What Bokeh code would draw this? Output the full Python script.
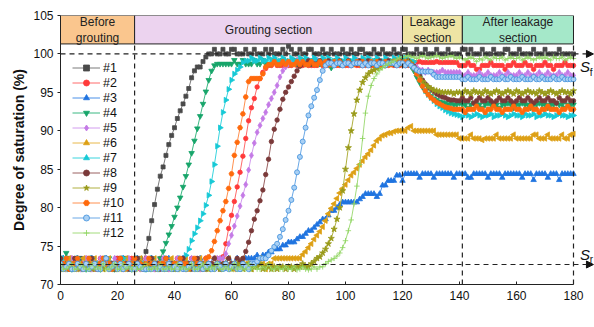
import math
from bokeh.plotting import figure
from bokeh.models import (Range1d, ColumnDataSource, Legend, LegendItem, Arrow,
                          NormalHead, FixedTicker, Label)
from bokeh.core.properties import value
from bokeh.embed import file_html
from bokeh.resources import INLINE

# ---------------- data ----------------
time_min = list(range(0, 181))

s1 = [73.4, 72.7, 72.7, 73.4, 72.7, 72.0, 72.7, 73.4, 72.7, 72.7,
      73.4, 72.7, 72.0, 72.7, 72.7, 73.4, 72.7, 72.7, 72.0, 72.7,
      73.4, 72.7, 72.7, 73.4, 72.7, 72.0, 72.7, 72.7, 73.4, 72.7,
      74.3, 76.0, 78.3, 80.4, 82.4, 84.1, 85.3, 86.8, 88.2, 89.4,
      90.4, 91.6, 92.6, 93.5, 94.5, 95.5, 96.9, 97.8, 98.3, 98.3,
      99.0, 99.6, 100.0, 100.0, 100.6, 100.0, 100.0, 100.6, 100.0, 100.0,
      100.6, 100.6, 100.0, 100.0, 100.0, 100.6, 100.0, 100.0, 100.6, 100.0,
      100.0, 100.0, 100.6, 100.0, 100.6, 100.0, 100.0, 100.0, 100.6, 100.0,
      101.0, 100.6, 100.0, 100.0, 100.6, 100.0, 100.0, 100.6, 100.6, 100.0,
      100.0, 100.0, 100.6, 100.0, 100.0, 100.6, 100.0, 100.0, 100.0, 100.6,
      100.0, 100.0, 100.6, 100.0, 100.0, 100.6, 100.6, 100.0, 100.0, 100.0,
      100.6, 100.0, 100.0, 100.6, 100.0, 100.0, 100.0, 100.6, 100.0, 100.0,
      100.6, 100.6, 100.0, 100.0, 100.0, 100.6, 100.0, 100.0, 100.6, 100.0,
      100.0, 100.0, 100.6, 100.0, 100.0, 100.0, 100.6, 100.0, 100.0, 100.0,
      100.0, 100.6, 100.6, 100.0, 100.6, 100.0, 100.0, 100.0, 100.6, 100.0,
      100.0, 100.0, 100.6, 100.0, 100.0, 100.0, 100.6, 100.6, 100.0, 100.0,
      100.0, 100.6, 100.0, 100.0, 100.0, 100.0, 100.6, 100.0, 100.0, 100.0,
      100.6, 100.0, 100.0, 100.0, 100.0, 100.6, 100.0, 100.0, 100.0, 100.0,
      100.0]

s2 = [72.7, 72.0, 72.7, 72.7, 73.4, 72.7, 72.0, 72.7, 72.7, 73.4,
      72.7, 72.7, 72.0, 72.7, 73.4, 72.7, 72.7, 72.0, 72.7, 72.7,
      73.4, 72.7, 72.0, 72.7, 72.7, 73.4, 72.7, 72.7, 72.0, 72.7,
      73.4, 72.7, 72.7, 72.0, 72.7, 73.4, 72.7, 72.7, 72.0, 72.7,
      72.7, 73.4, 72.7, 72.0, 72.7, 72.7, 73.4, 72.7, 72.7, 72.0,
      72.7, 73.4, 72.7, 72.7, 72.0, 72.7, 73.4, 73.6, 75.3, 77.3,
      79.0, 80.8, 82.7, 84.6, 86.7, 89.0, 91.3, 93.0, 94.2, 95.7,
      96.8, 97.6, 98.1, 98.5, 98.5, 98.9, 98.5, 98.5, 98.5, 98.9,
      98.5, 98.5, 98.9, 98.5, 98.5, 98.5, 98.9, 98.5, 98.5, 98.5,
      98.5, 98.9, 98.5, 98.5, 98.5, 98.5, 98.9, 98.5, 98.5, 98.9,
      98.5, 98.5, 98.5, 98.9, 98.5, 98.5, 98.5, 98.5, 98.9, 98.5,
      98.5, 98.9, 98.5, 98.5, 98.5, 98.5, 98.9, 98.5, 98.5, 98.5,
      98.9, 98.5, 98.5, 98.9, 98.9, 98.9, 99.0, 98.9, 98.9, 98.9,
      98.9, 98.9, 99.0, 98.9, 98.9, 98.9, 98.9, 98.9, 98.9, 98.9,
      98.5, 98.5, 98.5, 98.9, 98.5, 98.5, 98.0, 98.0, 98.5, 98.5,
      98.5, 98.9, 98.5, 98.5, 98.5, 98.5, 98.0, 98.5, 98.5, 98.9,
      98.5, 98.5, 98.5, 98.9, 98.5, 98.5, 98.0, 98.5, 98.5, 98.5,
      98.9, 98.5, 98.5, 98.0, 98.5, 98.5, 98.5, 98.9, 98.5, 98.5,
      98.5]

s3 = [72.7, 73.4, 72.7, 72.0, 72.7, 72.7, 73.4, 72.7, 72.0, 72.7,
      72.7, 73.4, 72.7, 72.7, 72.0, 72.7, 73.4, 72.7, 72.7, 72.0,
      72.7, 72.7, 73.4, 72.7, 72.0, 72.7, 72.7, 73.4, 72.7, 72.7,
      72.0, 72.7, 73.4, 72.7, 72.7, 72.0, 72.7, 72.7, 73.4, 72.7,
      72.7, 72.0, 72.7, 73.4, 72.7, 72.7, 72.0, 72.7, 72.7, 73.4,
      72.7, 72.0, 72.7, 72.7, 73.4, 72.7, 72.7, 72.0, 72.7, 73.4,
      72.7, 72.7, 73.4, 72.7, 72.7, 73.4, 73.4, 73.4, 73.4, 73.8,
      73.4, 73.8, 73.8, 74.2, 74.2, 74.6, 74.6, 74.6, 75.1, 75.1,
      75.5, 75.5, 75.5, 75.9, 76.2, 76.2, 76.6, 77.0, 77.0, 77.4,
      77.8, 78.1, 78.5, 78.5, 79.0, 79.6, 79.6, 80.0, 80.4, 80.7,
      80.7, 80.7, 80.7, 80.7, 80.7, 81.1, 81.4, 81.8, 81.8, 81.8,
      81.8, 81.4, 81.8, 82.9, 82.9, 83.5, 83.5, 83.5, 84.2, 84.2,
      83.5, 84.4, 84.4, 84.4, 84.4, 84.4, 83.9, 84.4, 84.4, 84.4,
      84.4, 83.9, 84.4, 84.4, 84.4, 84.4, 84.4, 84.4, 83.9, 84.4,
      84.4, 84.4, 84.4, 83.9, 83.9, 84.4, 84.4, 84.4, 84.4, 84.4,
      83.9, 84.4, 84.4, 84.4, 84.4, 83.9, 84.4, 84.4, 84.4, 84.4,
      84.4, 84.4, 83.9, 84.4, 84.4, 84.4, 83.6, 84.4, 84.4, 84.4,
      84.4, 83.9, 84.4, 84.4, 84.4, 83.6, 84.4, 84.4, 84.4, 84.4,
      84.4]

s4 = [72.7, 72.7, 74.1, 72.7, 72.0, 72.7, 73.4, 72.7, 72.7, 72.0,
      72.7, 73.4, 72.7, 72.7, 72.0, 72.7, 72.7, 73.4, 72.7, 72.0,
      72.7, 72.7, 73.4, 72.7, 72.7, 72.0, 72.7, 73.4, 72.7, 72.7,
      72.0, 72.7, 73.4, 72.7, 72.7, 73.4, 74.3, 75.4, 76.5, 77.6,
      78.8, 80.0, 81.3, 82.7, 84.1, 85.6, 87.1, 88.7, 90.3, 91.9,
      93.5, 95.1, 96.6, 97.8, 98.5, 98.7, 98.7, 98.7, 98.7, 98.7,
      98.7, 99.2, 98.7, 98.7, 99.2, 98.7, 98.7, 98.7, 99.2, 98.7,
      98.7, 99.2, 98.7, 98.7, 98.7, 99.2, 98.7, 98.7, 99.2, 98.7,
      98.7, 98.7, 99.2, 98.7, 98.7, 99.2, 98.7, 98.7, 98.7, 99.2,
      98.7, 98.7, 99.2, 98.7, 98.7, 98.2, 98.7, 99.2, 98.7, 98.7,
      98.7, 99.2, 98.7, 98.7, 99.2, 98.7, 98.7, 98.7, 99.2, 98.7,
      98.7, 99.2, 98.7, 98.7, 98.7, 99.2, 98.7, 98.7, 99.2, 98.7,
      98.7, 99.2, 98.7, 98.4, 97.8, 97.0, 96.3, 95.7, 95.2, 94.8,
      94.5, 94.2, 94.0, 93.8, 93.7, 93.6, 93.4, 93.6, 93.4, 93.4,
      93.6, 93.4, 93.4, 93.0, 93.4, 93.6, 93.4, 93.4, 93.0, 93.4,
      93.6, 93.4, 93.4, 93.4, 93.0, 93.4, 93.4, 93.6, 93.4, 93.0,
      93.4, 93.4, 93.6, 93.4, 93.4, 93.0, 93.4, 93.4, 93.6, 93.4,
      93.4, 93.0, 93.4, 93.4, 93.6, 93.4, 93.4, 93.0, 93.4, 93.4,
      93.4]

s5 = [72.7, 72.7, 72.0, 72.7, 73.4, 72.7, 72.7, 72.0, 72.7, 73.4,
      72.7, 72.0, 72.7, 72.7, 73.4, 72.7, 72.7, 72.0, 72.7, 73.4,
      72.7, 72.7, 72.0, 72.7, 73.4, 72.7, 72.7, 72.7, 72.0, 72.7,
      73.4, 72.7, 72.7, 72.0, 72.7, 72.7, 73.4, 72.7, 72.0, 72.7,
      72.7, 73.4, 72.7, 72.7, 72.0, 72.7, 73.4, 72.7, 72.7, 72.0,
      72.7, 73.4, 72.7, 72.7, 73.4, 73.4, 73.4, 73.4, 74.0, 75.3,
      76.4, 77.6, 78.9, 80.2, 81.6, 83.0, 84.9, 86.8, 88.4, 89.8,
      90.7, 91.6, 92.4, 93.4, 94.2, 95.0, 95.9, 97.0, 97.8, 98.3,
      98.7, 98.9, 98.9, 99.2, 98.9, 98.9, 98.9, 99.2, 98.9, 98.9,
      99.2, 98.9, 98.9, 98.9, 99.2, 98.9, 98.9, 99.2, 98.9, 98.9,
      98.9, 99.2, 98.9, 98.9, 99.2, 98.9, 98.9, 98.9, 99.2, 98.9,
      98.9, 99.2, 98.9, 98.9, 98.9, 99.2, 98.9, 98.9, 99.2, 98.9,
      98.9, 98.9, 99.2, 98.9, 98.7, 98.3, 97.9, 97.9, 97.6, 97.9,
      97.6, 97.6, 97.6, 97.6, 97.9, 97.6, 97.6, 97.6, 97.6, 97.6,
      97.6, 97.2, 97.2, 97.6, 97.2, 97.2, 97.2, 97.6, 97.2, 97.2,
      97.6, 97.2, 97.2, 97.2, 97.6, 97.2, 97.2, 97.6, 97.2, 97.2,
      97.2, 97.6, 97.2, 97.2, 97.6, 97.2, 97.2, 97.2, 97.6, 97.2,
      97.2, 97.6, 97.2, 97.2, 97.2, 97.6, 97.2, 97.2, 97.6, 97.2,
      97.2]

s6 = [72.0, 72.7, 72.7, 73.4, 72.7, 72.0, 72.7, 72.7, 73.4, 72.7,
      72.0, 72.7, 73.4, 72.7, 72.7, 72.0, 72.7, 73.4, 72.7, 72.7,
      72.0, 72.7, 72.7, 73.4, 72.7, 72.0, 72.7, 72.7, 73.4, 72.7,
      72.7, 72.0, 72.7, 73.4, 72.7, 72.7, 72.0, 72.7, 72.7, 73.4,
      72.7, 72.0, 72.7, 72.7, 73.4, 72.7, 72.7, 72.0, 72.7, 73.4,
      72.7, 72.7, 72.0, 72.7, 73.4, 72.7, 72.0, 72.7, 72.7, 73.4,
      72.7, 72.0, 72.7, 72.7, 73.4, 72.7, 72.7, 72.0, 72.7, 72.7,
      73.4, 72.7, 72.0, 72.7, 72.7, 73.4, 73.4, 73.4, 73.4, 73.4,
      73.4, 73.4, 73.4, 73.4, 73.4, 73.9, 74.3, 74.8, 75.3, 75.9,
      76.4, 76.9, 77.5, 78.3, 79.2, 79.9, 80.5, 81.2, 81.9, 82.5,
      83.0, 83.6, 84.2, 84.6, 85.1, 85.6, 86.1, 86.6, 87.0, 87.5,
      88.1, 88.7, 89.0, 89.4, 89.5, 89.7, 89.7, 89.9, 90.0, 90.0,
      90.0, 90.0, 90.4, 90.6, 90.0, 90.0, 90.0, 90.0, 90.0, 90.0,
      90.0, 90.0, 89.5, 89.5, 89.5, 89.5, 89.5, 89.5, 89.5, 89.5,
      89.0, 89.0, 89.0, 89.0, 89.5, 89.0, 89.0, 89.0, 88.8, 89.0,
      89.0, 89.0, 89.0, 89.5, 89.0, 89.0, 89.0, 89.0, 89.0, 89.5,
      89.0, 89.0, 89.0, 89.0, 89.0, 89.0, 89.5, 89.5, 89.0, 89.0,
      89.0, 89.5, 89.0, 89.0, 89.0, 89.0, 89.5, 89.0, 89.0, 89.5,
      89.6]

s7 = [72.7, 73.4, 72.7, 72.0, 72.7, 72.7, 73.4, 72.7, 72.0, 72.7,
      72.7, 73.4, 72.7, 72.7, 72.0, 72.7, 73.4, 72.7, 72.7, 72.0,
      72.7, 72.7, 73.4, 72.7, 72.0, 72.7, 72.7, 73.4, 72.7, 72.7,
      72.0, 72.7, 73.4, 72.7, 72.7, 72.0, 72.7, 73.4, 72.7, 72.7,
      72.0, 72.7, 73.4, 72.7, 73.8, 74.6, 75.7, 76.6, 77.4, 78.3,
      79.2, 80.3, 81.6, 83.4, 85.6, 88.0, 90.4, 92.4, 94.0, 95.4,
      96.6, 97.4, 97.9, 98.3, 98.9, 99.1, 99.1, 99.5, 99.1, 99.1,
      99.5, 99.1, 99.1, 99.5, 99.1, 99.5, 99.1, 99.1, 99.5, 99.1,
      99.1, 99.5, 99.1, 99.1, 99.5, 99.1, 99.5, 99.1, 99.1, 99.5,
      99.1, 99.1, 99.5, 99.1, 99.5, 99.1, 99.1, 99.5, 99.1, 99.1,
      99.5, 99.1, 99.1, 99.5, 99.1, 99.1, 99.5, 99.1, 99.5, 99.1,
      99.1, 99.5, 99.1, 99.1, 99.5, 99.1, 99.1, 99.5, 99.1, 99.5,
      99.1, 99.5, 99.1, 99.1, 99.0, 98.0, 97.1, 96.1, 95.2, 94.7,
      94.3, 93.9, 93.5, 93.2, 93.0, 92.7, 92.5, 92.3, 92.2, 92.1,
      92.0, 91.8, 92.2, 92.0, 91.8, 92.0, 92.2, 92.0, 91.8, 92.0,
      92.0, 92.2, 91.8, 92.0, 92.0, 92.2, 92.0, 91.8, 92.0, 92.2,
      92.0, 92.0, 91.8, 92.2, 92.0, 92.0, 92.2, 91.8, 92.0, 92.0,
      92.2, 92.0, 92.0, 91.8, 92.0, 92.2, 92.0, 92.0, 91.8, 92.0,
      92.0]

s8 = [73.4, 72.7, 72.7, 72.0, 72.7, 73.4, 72.7, 72.7, 72.0, 72.7,
      72.7, 73.4, 72.7, 72.0, 72.7, 72.7, 73.4, 72.7, 72.7, 72.0,
      72.7, 73.4, 72.7, 72.7, 72.0, 72.7, 72.7, 73.4, 72.7, 72.0,
      72.7, 72.7, 73.4, 72.7, 72.7, 72.0, 72.7, 73.4, 72.7, 72.7,
      72.0, 72.7, 72.7, 73.4, 72.7, 72.7, 72.0, 72.7, 73.4, 72.7,
      72.7, 72.0, 72.7, 72.7, 73.4, 72.7, 72.0, 72.7, 72.7, 73.4,
      72.7, 72.7, 73.4, 73.0, 73.4, 74.3, 75.5, 77.0, 78.5, 79.6,
      80.9, 82.3, 84.3, 86.3, 88.6, 90.2, 91.4, 92.8, 94.1, 95.0,
      95.7, 96.4, 97.1, 97.8, 98.4, 98.7, 98.7, 99.1, 98.7, 98.7,
      98.7, 99.1, 98.7, 98.7, 99.1, 98.7, 98.7, 98.7, 99.1, 98.7,
      98.7, 99.1, 98.7, 98.7, 98.7, 99.1, 98.7, 98.7, 99.1, 98.7,
      98.7, 98.7, 99.1, 98.7, 98.7, 99.1, 98.7, 98.7, 98.7, 99.1,
      98.7, 98.7, 99.1, 98.7, 98.4, 97.8, 97.2, 96.6, 96.1, 95.7,
      95.4, 95.1, 94.8, 94.6, 94.4, 94.3, 94.1, 94.0, 94.0, 93.9,
      93.9, 94.3, 93.9, 93.9, 94.3, 93.6, 93.9, 94.3, 93.9, 93.9,
      94.3, 93.9, 93.6, 93.9, 94.3, 93.9, 93.9, 94.3, 93.9, 93.6,
      93.9, 94.3, 93.9, 93.9, 94.3, 93.9, 93.6, 93.9, 94.3, 93.9,
      93.9, 94.3, 93.9, 93.9, 93.6, 94.3, 93.9, 93.9, 94.3, 93.9,
      93.9]

s9 = [72.3, 72.0, 72.7, 72.3, 72.0, 72.3, 72.7, 72.0, 72.3, 72.3,
      72.7, 72.0, 72.3, 72.3, 72.7, 72.0, 72.3, 72.7, 72.3, 72.0,
      72.3, 72.7, 72.0, 72.3, 72.3, 72.7, 72.0, 72.3, 72.7, 72.3,
      72.0, 72.3, 72.7, 72.3, 72.0, 72.3, 72.7, 72.0, 72.3, 72.3,
      72.7, 72.0, 72.3, 72.3, 72.7, 72.0, 72.3, 72.7, 72.3, 72.0,
      72.3, 72.7, 72.0, 72.3, 72.3, 72.7, 72.0, 72.3, 72.7, 72.3,
      72.0, 72.3, 72.7, 72.3, 72.0, 72.3, 72.7, 72.0, 72.3, 72.3,
      72.7, 72.0, 72.3, 72.3, 72.0, 72.3, 72.0, 72.3, 72.3, 72.0,
      72.3, 72.3, 72.0, 72.3, 72.3, 72.7, 72.3, 72.3, 72.7, 73.0,
      73.4, 73.6, 74.1, 74.6, 75.3, 76.0, 77.2, 78.5, 80.0, 82.2,
      85.0, 87.8, 90.0, 92.2, 94.0, 95.3, 96.3, 96.9, 97.4, 97.7,
      97.9, 98.1, 98.3, 98.5, 98.7, 98.7, 98.9, 99.0, 99.0, 99.0,
      99.0, 99.0, 99.0, 98.8, 98.2, 97.5, 96.9, 96.4, 96.0, 95.7,
      95.5, 95.3, 95.2, 95.1, 95.0, 95.0, 95.0, 95.0, 94.8, 95.0,
      95.0, 94.8, 95.2, 95.0, 94.8, 95.2, 95.0, 95.0, 94.8, 95.2,
      95.0, 94.8, 95.0, 95.2, 95.0, 94.8, 95.0, 95.2, 95.0, 94.8,
      95.2, 95.0, 94.8, 95.0, 95.2, 95.0, 95.0, 94.8, 95.2, 95.0,
      94.8, 95.0, 95.2, 95.0, 94.8, 95.0, 95.2, 95.0, 95.0, 94.8,
      95.2]

s10 = [72.7, 72.7, 73.4, 72.0, 72.7, 72.7, 73.4, 72.7, 72.0, 72.7,
       73.4, 72.7, 72.7, 72.0, 72.7, 73.4, 72.7, 72.7, 72.0, 72.7,
       72.7, 73.4, 72.7, 72.0, 72.7, 72.7, 73.4, 72.7, 72.7, 72.0,
       72.7, 73.4, 72.7, 72.7, 72.0, 72.7, 72.7, 73.4, 72.7, 72.0,
       72.7, 72.7, 73.4, 72.7, 72.7, 72.0, 72.7, 73.4, 72.7, 72.7,
       72.0, 73.4, 73.6, 74.4, 75.6, 77.0, 78.3, 79.6, 80.8, 82.5,
       84.4, 86.8, 88.5, 90.4, 92.2, 94.4, 96.4, 96.8, 96.8, 96.8,
       96.8, 97.4, 98.3, 98.6, 98.6, 99.0, 98.6, 98.6, 99.0, 98.6,
       99.0, 98.6, 98.6, 99.0, 98.6, 99.0, 98.6, 98.6, 99.0, 98.6,
       98.6, 99.0, 98.6, 99.0, 98.6, 98.6, 99.0, 98.6, 99.0, 98.6,
       98.6, 99.0, 98.6, 98.6, 99.0, 98.6, 99.0, 98.6, 98.6, 99.0,
       98.6, 99.0, 98.6, 98.6, 99.0, 98.6, 98.6, 99.0, 98.6, 99.0,
       98.6, 99.0, 98.6, 98.6, 98.2, 97.4, 96.6, 95.8, 95.2, 94.7,
       94.3, 94.0, 93.7, 93.5, 93.3, 93.1, 93.0, 92.9, 92.8, 92.8,
       92.8, 92.8, 92.4, 92.8, 92.8, 92.8, 93.2, 92.8, 92.8, 92.4,
       92.8, 92.8, 93.2, 92.8, 92.8, 92.4, 92.8, 92.8, 92.8, 93.2,
       92.8, 92.8, 92.4, 92.8, 92.8, 93.2, 92.8, 92.8, 92.4, 92.8,
       92.8, 93.2, 92.8, 92.8, 92.8, 92.4, 92.8, 92.8, 93.2, 92.8,
       92.8]

s11 = [72.7, 72.0, 72.3, 72.7, 72.0, 72.0, 72.7, 72.3, 72.0, 72.7,
       72.0, 72.3, 72.7, 72.0, 72.0, 72.7, 73.4, 72.0, 72.3, 72.7,
       72.0, 72.7, 72.0, 72.3, 72.7, 72.0, 72.0, 72.7, 72.3, 72.0,
       72.0, 72.0, 72.0, 72.7, 72.0, 72.3, 72.0, 72.0, 72.7, 72.0,
       72.3, 72.0, 72.7, 72.0, 72.0, 72.3, 72.7, 72.0, 72.0, 72.7,
       72.0, 72.3, 72.7, 72.0, 72.0, 72.7, 72.3, 72.0, 72.7, 72.0,
       72.3, 72.7, 72.0, 72.0, 72.7, 72.3, 72.0, 72.7, 72.7, 73.0,
       73.4, 73.4, 73.4, 73.8, 74.4, 74.9, 75.3, 76.2, 77.2, 78.4,
       79.6, 81.0, 82.6, 84.6, 86.6, 88.6, 90.4, 92.0, 93.2, 94.3,
       95.3, 96.6, 97.8, 98.5, 98.8, 98.8, 98.5, 98.8, 98.8, 98.5,
       98.8, 98.8, 98.5, 98.8, 98.8, 98.8, 98.5, 98.8, 98.5, 98.8,
       98.8, 98.5, 98.8, 98.8, 98.5, 98.8, 98.8, 98.8, 98.5, 98.8,
       98.8, 98.5, 98.8, 98.5, 98.2, 97.9, 97.7, 97.7, 97.7, 97.7,
       97.7, 97.3, 97.0, 97.0, 97.0, 97.0, 97.0, 97.0, 97.0, 97.0,
       97.0, 96.7, 96.7, 97.0, 96.7, 96.7, 96.7, 97.0, 96.7, 96.7,
       96.7, 97.0, 96.7, 96.7, 96.7, 97.0, 96.7, 96.7, 97.0, 96.7,
       96.7, 96.7, 97.0, 96.7, 96.7, 96.7, 97.0, 96.7, 96.7, 97.0,
       96.7, 96.7, 96.7, 97.0, 96.7, 96.7, 97.0, 96.7, 96.7, 96.7,
       96.7]

s12 = [72.7, 72.0, 72.0, 72.3, 72.7, 72.0, 72.0, 72.7, 72.3, 72.0,
       72.0, 72.7, 72.0, 72.3, 72.0, 72.7, 72.0, 72.0, 72.3, 72.7,
       72.0, 72.0, 72.7, 72.0, 72.3, 72.0, 72.7, 72.0, 72.0, 72.3,
       72.7, 72.0, 72.0, 72.3, 72.0, 72.7, 72.0, 72.0, 72.3, 72.0,
       72.0, 72.7, 72.0, 72.3, 72.0, 72.0, 72.7, 72.0, 72.0, 72.3,
       72.7, 72.0, 72.0, 72.3, 72.0, 72.7, 72.0, 72.0, 72.3, 72.0,
       72.0, 72.7, 72.0, 72.3, 72.0, 72.0, 72.7, 72.0, 72.3, 72.0,
       72.0, 72.3, 72.0, 72.7, 72.0, 72.0, 72.3, 72.0, 72.0, 72.3,
       72.0, 72.0, 72.3, 71.9, 72.0, 72.3, 72.0, 71.9, 72.0, 72.3,
       72.0, 72.3, 72.3, 72.7, 73.0, 73.2, 73.4, 73.7, 74.1, 74.8,
       75.7, 77.0, 78.4, 80.5, 82.8, 85.6, 89.0, 92.3, 94.5, 95.9,
       96.8, 97.4, 97.9, 98.2, 98.5, 98.7, 98.9, 99.1, 99.3, 99.5,
       99.6, 99.6, 99.8, 99.6, 99.6, 99.4, 99.6, 99.8, 99.6, 99.4,
       99.6, 99.6, 99.8, 99.6, 99.4, 99.6, 99.6, 99.8, 99.6, 99.4,
       99.6, 99.4, 99.2, 99.4, 99.6, 99.4, 99.0, 99.4, 99.2, 99.6,
       99.4, 99.2, 99.6, 99.4, 99.4, 99.6, 99.2, 99.4, 99.6, 99.4,
       99.4, 99.6, 99.2, 99.4, 99.6, 99.4, 99.2, 99.4, 99.6, 99.4,
       99.6, 99.4, 99.2, 99.6, 99.4, 99.4, 99.6, 99.2, 99.4, 99.6,
       99.4]

series_names = ["#1", "#2", "#3", "#4", "#5", "#6", "#7", "#8", "#9", "#10", "#11", "#12"]
series_values = [s1, s2, s3, s4, s5, s6, s7, s8, s9, s10, s11, s12]

phase_edges = [0, 26, 120, 141, 180]
phase_names = ["Before\ngrouting", "Grouting section", "Leakage\nsection", "After leakage\nsection"]
s_f = 100.0
s_r = 72.6
x_ticks = [0, 20, 40, 60, 80, 100, 120, 140, 160, 180]
y_ticks = [70, 75, 80, 85, 90, 95, 100, 105]

# ---------------- styles ----------------
styles = [
    dict(marker="square", color="#4a4a4a", line="#7a7a7a", size=4, angle=0.0, fill="#4a4a4a"),
    dict(marker="circle", color="#ff3a3a", line="#ff6a6a", size=4.5, angle=0.0, fill="#ff3a3a"),
    dict(marker="triangle", color="#1f74e0", line="#4a90e8", size=5.5, angle=0.0, fill="#1f74e0"),
    dict(marker="inverted_triangle", color="#17a56a", line="#3bb882", size=5.5, angle=0.0, fill="#17a56a"),
    dict(marker="diamond", color="#c47ae6", line="#d29cef", size=6, angle=0.0, fill="#c47ae6"),
    dict(marker="triangle", color="#dda015", line="#e8b84a", size=5.5, angle=math.pi / 2, fill="#dda015"),
    dict(marker="triangle", color="#16c9d6", line="#3ad4de", size=5.5, angle=-math.pi / 2, fill="#16c9d6"),
    dict(marker="circle", color="#7a3939", line="#9a6060", size=4.5, angle=0.0, fill="#7a3939"),
    dict(marker="star", color="#999a1a", line="#b0b040", size=6.5, angle=0.0, fill="#999a1a"),
    dict(marker="hex", color="#ff6a0c", line="#ff9050", size=5, angle=0.0, fill="#ff6a0c"),
    dict(marker="circle", color="#3f8fdc", line="#6aa8e6", size=5, angle=0.0, fill="#a9d0f4"),
    dict(marker="cross", color="#8cd35a", line="#a3dc7c", size=5.5, angle=0.0, fill="#8cd35a"),
]

FONT = "Liberation Sans"

x_end = 187.37
p = figure(width=594, height=327, x_range=Range1d(0, x_end), y_range=Range1d(70, 105),
           output_backend="svg", toolbar_location=None, title=None,
           min_border_left=60, min_border_right=0, min_border_top=15, min_border_bottom=43)
p.outline_line_color = None
p.xgrid.visible = False
p.ygrid.visible = False
p.background_fill_color = "white"
p.border_fill_color = "white"

# header band
hdr_bottom = 101.3
hdr_colors = ["#fac68e", "#ecd3ef", "#eee4a4", "#a5e8c9"]
hsrc = ColumnDataSource(dict(left=phase_edges[:-1], right=phase_edges[1:],
                             color=hdr_colors, name=phase_names,
                             xc=[(a + b) / 2 for a, b in zip(phase_edges[:-1], phase_edges[1:])]))
p.quad(left="left", right="right", bottom=hdr_bottom, top=105, fill_color="color",
       line_color="#222222", line_width=1, source=hsrc)
p.text(x="xc", y=(hdr_bottom + 105) / 2, text="name", source=hsrc, text_align="center",
       text_baseline="middle", text_font=value(FONT), text_font_size="12px",
       text_color="#222222", text_line_height=1.15)

# data
items = []
for name, vals, st in zip(series_names, series_values, styles):
    src = ColumnDataSource(dict(t=time_min[:len(vals)], v=vals))
    lr = p.line("t", "v", source=src, line_color=st["line"], line_width=1)
    sr = p.scatter("t", "v", source=src, marker=st["marker"], size=st["size"],
                   angle=st["angle"], fill_color=st["fill"], line_color=st["color"],
                   line_width=0.8)
    items.append(LegendItem(label=name, renderers=[lr, sr]))

# dashed section boundaries
p.segment(x0=phase_edges[1:], y0=[70] * 4, x1=phase_edges[1:], y1=[hdr_bottom] * 4,
          line_color="#222222", line_width=1.2, line_dash="5 4")

# Sf / Sr arrows
for yv in (s_f, s_r):
    p.add_layout(Arrow(x_start=0, y_start=yv, x_end=187.0, y_end=yv,
                       line_color="#222222", line_width=1.2, line_dash="5 4",
                       end=NormalHead(size=7, fill_color="#111111", line_color="#111111")))

p.text(x=[182.3, 182.3], y=[98.35, 73.95], text=["S", "S"], text_align="left",
       text_baseline="middle", text_font=value(FONT), text_font_style="italic",
       text_font_size="15px", text_color="#111111")
p.text(x=[185.7, 185.7], y=[97.6, 73.2], text=["f", "r"], text_align="left",
       text_baseline="middle", text_font=value(FONT), text_font_size="10px",
       text_color="#111111")

# legend
legend = Legend(items=items, location=(12, 44), orientation="vertical")
legend.margin = 0
legend.padding = 0
legend.spacing = 0
legend.glyph_width = 28
legend.glyph_height = 15
legend.label_height = 15
legend.label_standoff = 3
legend.label_text_font = FONT
legend.label_text_font_size = "12.5px"
legend.label_text_color = "#111111"
legend.border_line_alpha = 0
legend.background_fill_alpha = 0
p.add_layout(legend, "center")

# axes
p.xaxis.bounds = (0, 180)
p.yaxis.bounds = (70, 105)
p.xaxis.ticker = FixedTicker(ticks=x_ticks)
p.yaxis.ticker = FixedTicker(ticks=y_ticks)
for ax in (p.xaxis, p.yaxis):
    ax.minor_tick_line_color = None
    ax.axis_line_color = "#222222"
    ax.major_tick_line_color = "#222222"
    ax.major_label_text_font = FONT
    ax.major_label_text_font_size = "12px"
    ax.major_label_text_color = "#111111"
    ax.axis_label_text_font = FONT
    ax.axis_label_text_font_size = "14px"
    ax.axis_label_text_font_style = "bold"
    ax.axis_label_text_color = "#111111"
p.xaxis.major_tick_in = 3
p.xaxis.major_tick_out = 0
p.yaxis.major_tick_in = 0
p.yaxis.major_tick_out = 3
p.xaxis.major_label_standoff = 6
p.yaxis.major_label_standoff = 4
p.yaxis.axis_label = "Degree of saturation (%)"
p.yaxis.axis_label_standoff = 3

# x-axis title centred under the 0-180 axis span
p.add_layout(Label(x=90, y=70, y_offset=-32.5, text="Time (min)", text_align="center",
                   text_baseline="middle", text_font=FONT, text_font_size="14px",
                   text_font_style="bold", text_color="#111111"))

open("out.html", "w").write(file_html(p, INLINE))
